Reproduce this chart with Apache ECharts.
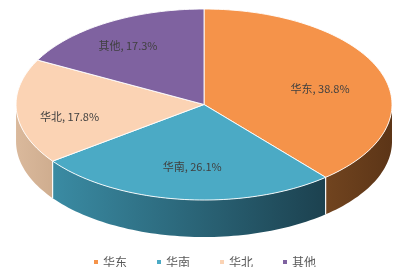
<!DOCTYPE html>
<html>
<head>
<meta charset="utf-8">
<script src="https://cdn.jsdelivr.net/npm/echarts@6/dist/echarts.min.js"></script>
<style>
html,body{margin:0;padding:0;background:#fff;}
#chart{width:396px;height:267px;}
</style>
</head>
<body>
<div id="chart"></div>
<script>
// ---- data ----
const categories = ['华东', '华南', '华北', '其他'];
const values = [38.8, 26.1, 17.8, 17.3];

// ---- style ----
const topColors = ['#F5934A', '#4BAAC5', '#FBD3B4', '#7F62A0'];
const sideColors = [
  ['#71441F', '#5C3517'],
  ['#3A8BA3', '#1C414F'],
  ['#DAB99C', '#CFAD8F'],
  ['#5F4A7A', '#4E3C66']
];
// label nudges (px) relative to the computed anchor, per slice
const labelNudge = [[-4, 3], [3, -5], [-7, 4], [-10, -6]];
// layout as fractions of the canvas
const layout = { cx: 0.5152, cy: 0.3914, rx: 0.4747, ry: 0.3577, depth: 0.1386, labelR: 0.68, labelDy: 0.012 };

const total = values.reduce((a, b) => a + b, 0);

function renderItem(params, api) {
  const i = params.seriesIndex;
  const W = api.getWidth(), H = api.getHeight();
  const cx = W * layout.cx, cy = H * layout.cy, rx = W * layout.rx, ry = H * layout.ry, depth = H * layout.depth;
  let before = 0;
  for (let k = 0; k < i; k++) before += values[k];
  const start = before / total * 360;
  const end = start + api.value(0) / total * 360;
  const pt = (deg, dz, f) => {
    const r = deg * Math.PI / 180;
    f = f == null ? 1 : f;
    return [cx + rx * f * Math.sin(r), cy - ry * f * Math.cos(r) + dz];
  };
  const arc = (a, b, dz) => {
    const n = Math.max(2, Math.ceil(Math.abs(b - a) / 1.5));
    const pts = [];
    for (let s = 0; s <= n; s++) pts.push(pt(a + (b - a) * s / n, dz));
    return pts;
  };
  const children = [];
  // side wall (front half only)
  const a = Math.max(start, 90), b = Math.min(end, 270);
  if (a < b) {
    const pts = arc(a, b, 0).concat(arc(b, a, depth));
    children.push({
      type: 'polygon', z2: 1,
      shape: { points: pts },
      style: {
        fill: new echarts.graphic.LinearGradient(0, 0, 1, 0, [
          { offset: 0, color: sideColors[i][0] },
          { offset: 1, color: sideColors[i][1] }
        ]),
        stroke: null
      }
    });
    // seam lines
    [start, end].forEach(d => {
      if (d > 90 && d < 270) {
        const p1 = pt(d, 0), p2 = pt(d, depth);
        children.push({
          type: 'line', z2: 2,
          shape: { x1: p1[0], y1: p1[1], x2: p2[0], y2: p2[1] },
          style: { stroke: 'rgba(255,255,255,0.85)', lineWidth: 1 }
        });
      }
    });
  }
  // top face
  children.push({
    type: 'polygon', z2: 10,
    shape: { points: [[cx, cy]].concat(arc(start, end, 0)) },
    style: { fill: topColors[i], stroke: 'rgba(255,255,255,0.9)', lineWidth: 1 }
  });
  // label
  const mid = (start + end) / 2;
  const lp = pt(mid, H * layout.labelDy, layout.labelR);
  children.push({
    type: 'text', z2: 30,
    x: lp[0] + labelNudge[i][0], y: lp[1] + labelNudge[i][1],
    style: {
      text: categories[i] + ', ' + api.value(0).toFixed(1) + '%',
      fill: '#404040',
      fontSize: 11,
      fontFamily: 'Noto Sans CJK SC',
      align: 'center',
      verticalAlign: 'middle'
    }
  });
  return { type: 'group', children };
}

const chart = echarts.init(document.getElementById('chart'), null, { renderer: 'canvas' });
chart.setOption({
  animation: false,
  backgroundColor: '#fff',
  legend: {
    data: categories,
    top: 251,
    left: 89,
    icon: 'rect',
    itemWidth: 4,
    itemHeight: 4,
    itemGap: 30,
    textStyle: { color: '#595959', fontSize: 12, fontFamily: 'Noto Sans CJK SC' }
  },
  series: categories.map((name, i) => ({
    type: 'custom',
    name: name,
    coordinateSystem: 'none',
    renderItem: renderItem,
    itemStyle: { color: topColors[i] },
    data: [[values[i]]]
  }))
});
</script>
</body>
</html>
